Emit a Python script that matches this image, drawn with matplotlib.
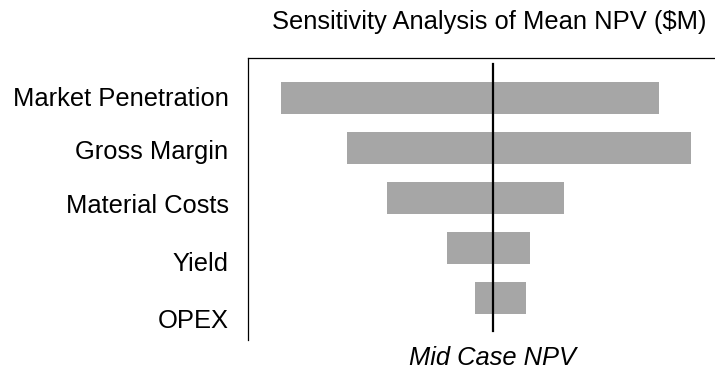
import matplotlib
matplotlib.use("Agg")
import matplotlib.pyplot as plt

# 敏感性分析数据 ($M)
factors = ["Market Penetration", "Gross Margin", "Material Costs", "Yield", "OPEX"]
low_npv = [7.6, 20.8, 28.8, 40.8, 46.4]
high_npv = [83.2, 89.6, 64.2, 57.4, 56.6]
mid_npv = 50.0

plt.rcParams['font.family'] = ['Liberation Sans', 'DejaVu Sans']

fig = plt.figure(figsize=(7.15, 3.70), dpi=100)
ax = fig.add_axes([0.3469, 0.0811, 0.674, 0.7622])

# 龙卷风图：每个因素一条横条，从低值到高值
ypos = list(range(len(factors)))
widths = [h - l for l, h in zip(low_npv, high_npv)]
ax.barh(ypos, widths, left=low_npv, height=0.64, color='#a6a6a6')

# 中间情景的竖线
ax.axvline(mid_npv, ymin=0.032, ymax=0.979, color='black', linewidth=1.6)

ax.set_xlim(1.0, 97.4)
ax.set_ylim(4.84, -0.8)

# 标签间距比横条略大
label_pos = [-0.02, 1.04, 2.12, 3.28, 4.42]
ax.set_yticks(label_pos)
ax.set_yticklabels(factors, fontsize=18.4)
ax.set_xticks([])
ax.tick_params(axis='y', length=0, pad=14)

for side in ['right', 'bottom']:
    ax.spines[side].set_visible(False)
ax.spines['left'].set_linewidth(0.9)
ax.spines['top'].set_linewidth(0.9)

ax.set_title('Sensitivity Analysis of Mean NPV ($M)', fontsize=18.4, pad=21)
ax.set_xlabel('Mid Case NPV', fontsize=18.4, style='italic', labelpad=3)
ax.xaxis.set_label_coords(0.508, -0.02)

fig.savefig('out.png', dpi=100)
